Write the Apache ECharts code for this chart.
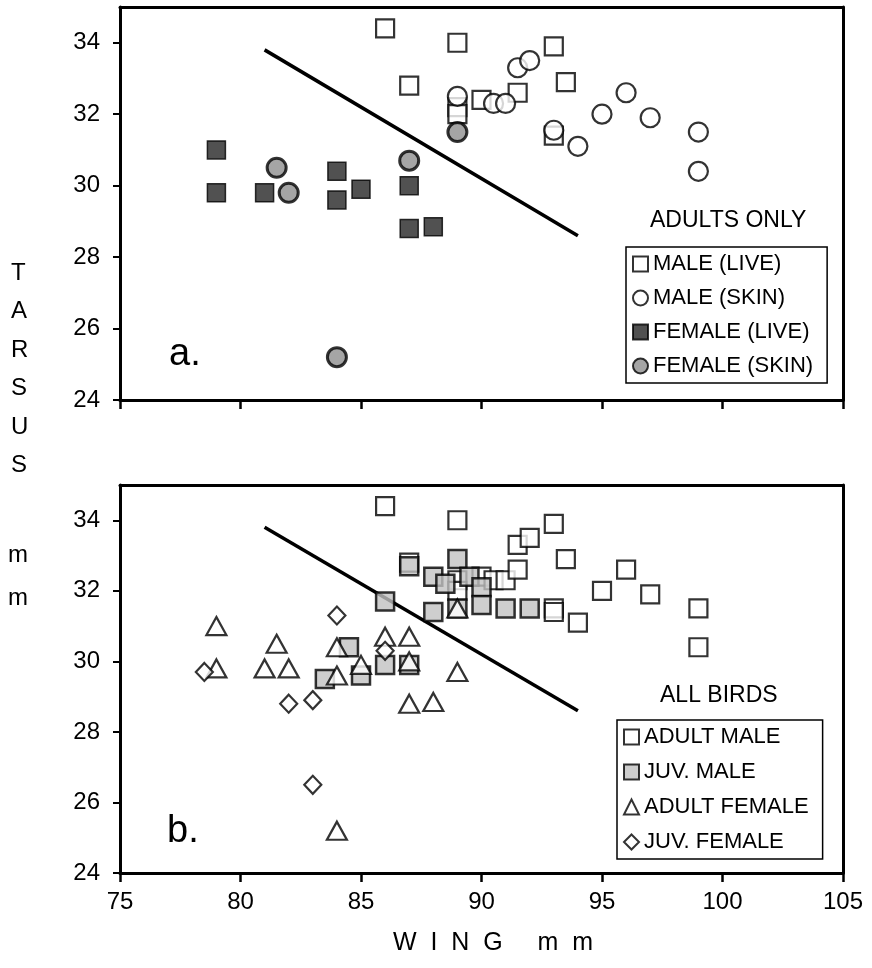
<!DOCTYPE html>
<html>
<head>
<meta charset="utf-8">
<script src="https://cdn.jsdelivr.net/npm/echarts@6/dist/echarts.min.js"></script>
<style>html,body{margin:0;padding:0;background:#fff;}#c{width:872px;height:968px;}</style>
</head>
<body>
<div id="c"></div>
<script>
// ---- data ----
const xTicks = [75, 80, 85, 90, 95, 100, 105];
const yTicks = [24, 26, 28, 30, 32, 34];
// panel a (adults only)
const maleLive = [[86,34.4],[89,34.0],[87,32.8],[93,33.9],[93.5,32.9],[91.5,32.6],[90,32.4],[89,32.2],[89,32.0],[93,31.4]];
const maleSkin = [[89,32.5],[90.5,32.3],[91,32.3],[91.5,33.3],[92,33.5],[93,31.55],[94,31.1],[95,32.0],[96,32.6],[97,31.9],[99,31.5],[99,30.4]];
const femaleLive = [[79,31.0],[79,29.8],[81,29.8],[84,30.4],[84,29.6],[85,29.9],[87,30.0],[87,28.8],[88,28.85]];
const femaleSkin = [[81.5,30.5],[82,29.8],[84,25.2],[87,30.7],[89,31.5]];
// panel b (all birds)
const adultMale = [[86,34.4],[87,32.8],[89,34.0],[89,32.3],[89,32.0],[90,32.4],[90.5,32.3],[91,32.3],[91.5,33.3],[92,33.5],[93,33.9],[91.5,32.6],[93.5,32.9],[93,31.5],[93,31.4],[94,31.1],[95,32.0],[96,32.6],[97,31.9],[99,31.5],[99,30.4]];
const juvMale = [[83.5,29.5],[84.5,30.4],[85,29.6],[86,29.9],[86,31.7],[87,32.7],[87,29.9],[88,32.4],[88,31.4],[88.5,32.2],[89,32.9],[89.5,32.4],[89,31.5],[90,32.1],[90,31.6],[91,31.5],[92,31.5]];
const adultFemale = [[79,31.0],[79,29.8],[81,29.8],[81.5,30.5],[82,29.8],[84,30.4],[84,29.6],[85,29.9],[86,30.7],[87,30.7],[87,30.0],[87,28.8],[88,28.85],[89,29.7],[89,31.5],[84,25.2]];
const juvFemale = [[78.5,29.7],[82,28.8],[83,28.9],[83,26.5],[84,31.3],[86,30.3]];
// discriminant line
const lineWing = [81, 94];
const lineTarsus = [33.8, 28.6];

const FONT = 'Liberation Sans, Arial, sans-serif';
const chart = echarts.init(document.getElementById('c'), null, {renderer: 'canvas'});

function xAx(grid, labels) {
  return {
    type: 'value', gridIndex: grid, min: 75, max: 105, interval: 5,
    axisLine: {show: true, onZero: false, lineStyle: {color: '#000', width: 3}},
    axisTick: {show: true, inside: false, length: 9, lineStyle: {color: '#000', width: 2.5}, customValues: xTicks},
    axisLabel: {show: labels, margin: 17, fontSize: 24, color: '#000', fontFamily: FONT, customValues: xTicks},
    splitLine: {show: false}
  };
}
function xTop(grid) {
  return {type: 'value', gridIndex: grid, position: 'top', min: 75, max: 105,
    axisLine: {show: true, onZero: false, lineStyle: {color: '#000', width: 3}},
    axisTick: {show: false}, axisLabel: {show: false}, splitLine: {show: false}};
}
function yAx(grid) {
  return {
    type: 'value', gridIndex: grid, min: 24, max: 35, interval: 2,
    axisLine: {show: true, onZero: false, lineStyle: {color: '#000', width: 3}},
    axisTick: {show: true, inside: false, length: 7, lineStyle: {color: '#000', width: 2}, customValues: yTicks},
    axisLabel: {show: true, margin: 20, fontSize: 24, color: '#000', fontFamily: FONT, customValues: yTicks},
    splitLine: {show: false}
  };
}
function yRight(grid) {
  return {type: 'value', gridIndex: grid, position: 'right', min: 24, max: 35,
    axisLine: {show: true, onZero: false, lineStyle: {color: '#000', width: 3}},
    axisTick: {show: false}, axisLabel: {show: false}, splitLine: {show: false}};
}

const openStyle = {color: '#fff', borderColor: '#000', borderWidth: 2.2};
function sc(name, data, xi, yi, symbol, size, style, z) {
  return {type: 'scatter', name: name, data: data, xAxisIndex: xi, yAxisIndex: yi,
    symbol: symbol, symbolSize: size, itemStyle: style, z: z, silent: true, animation: false,
    emphasis: {disabled: true}};
}
function ln(xi, yi) {
  return {type: 'line', data: lineWing.map((w, i) => [w, lineTarsus[i]]), xAxisIndex: xi, yAxisIndex: yi,
    showSymbol: false, symbol: 'none', lineStyle: {color: '#000', width: 3.5}, z: 1, animation: false, silent: true};
}

const legendText = {fontSize: 22, color: '#000', fontFamily: FONT};

chart.setOption({
  backgroundColor: '#fff',
  animation: false,
  grid: [
    {left: 120, right: 29, top: 7, height: 393, outerBoundsMode: 'none'},
    {left: 120, right: 29, top: 485, height: 388, outerBoundsMode: 'none'}
  ],
  xAxis: [xAx(0, false), xAx(1, true), xTop(0), xTop(1)],
  yAxis: [yAx(0), yAx(1), yRight(0), yRight(1)],
  legend: [
    {orient: 'vertical', left: 626, top: 247, itemWidth: 15, itemHeight: 15, itemGap: 12,
     padding: [6, 14, 6, 6], borderColor: '#000', borderWidth: 1.5, backgroundColor: '#fff',
     textStyle: legendText, selectedMode: false,
     data: ['MALE (LIVE)', 'MALE (SKIN)', 'FEMALE (LIVE)', 'FEMALE (SKIN)']},
    {orient: 'vertical', left: 617, top: 720, itemWidth: 15, itemHeight: 15, itemGap: 13,
     padding: [6, 14, 6, 6], borderColor: '#000', borderWidth: 1.5, backgroundColor: '#fff',
     textStyle: legendText, selectedMode: false,
     data: ['ADULT MALE', 'JUV. MALE', 'ADULT FEMALE', 'JUV. FEMALE']}
  ],
  series: [
    ln(0, 0),
    sc('MALE (LIVE)', maleLive, 0, 0, 'rect', 18, openStyle, 2),
    sc('MALE (SKIN)', maleSkin, 0, 0, 'circle', 19, openStyle, 3),
    sc('FEMALE (LIVE)', femaleLive, 0, 0, 'rect', 18, {color: '#262626', borderColor: '#000', borderWidth: 1.5}, 4),
    sc('FEMALE (SKIN)', femaleSkin, 0, 0, 'circle', 19, {color: '#8f8f8f', borderColor: '#000', borderWidth: 3}, 5),
    ln(1, 1),
    sc('ADULT MALE', adultMale, 1, 1, 'rect', 18, openStyle, 2),
    sc('JUV. MALE', juvMale, 1, 1, 'rect', 18, {color: '#c2c2c2', borderColor: '#000', borderWidth: 2.5}, 3),
    sc('ADULT FEMALE', adultFemale, 1, 1, 'triangle', [20, 18], openStyle, 4),
    sc('JUV. FEMALE', juvFemale, 1, 1, 'diamond', [17, 18], openStyle, 5)
  ],
  graphic: [
    {type: 'text', left: 650, top: 209, style: {text: 'ADULTS ONLY', font: '23px ' + FONT, fill: '#000'}},
    {type: 'text', left: 660, top: 684, style: {text: 'ALL BIRDS', font: '23px ' + FONT, fill: '#000'}},
    {type: 'text', left: 169, top: 336, style: {text: 'a.', font: '38px ' + FONT, fill: '#000'}},
    {type: 'text', left: 167, top: 813, style: {text: 'b.', font: '38px ' + FONT, fill: '#000'}},
    {type: 'text', left: 11, top: 254, style: {text: 'T\nA\nR\nS\nU\nS', font: '24px ' + FONT, fill: '#000', lineHeight: 38.5, align: 'left'}},
    {type: 'text', left: 8, top: 534, style: {text: 'm\nm', font: '24px ' + FONT, fill: '#000', lineHeight: 43}},
    {type: 'text', left: 393, top: 931, style: {text: 'W  I  N  G     m  m', font: '25px ' + FONT, fill: '#000'}}
  ]
});
</script>
</body>
</html>
